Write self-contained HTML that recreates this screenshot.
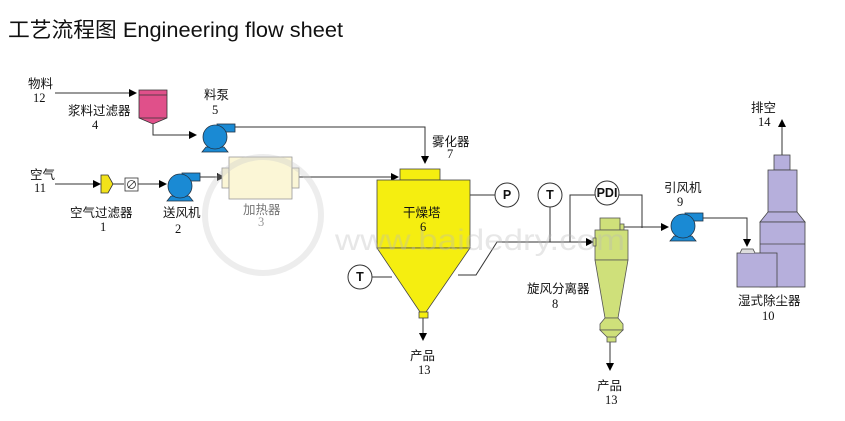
<!DOCTYPE html>
<html><head><meta charset="utf-8"><style>
body{margin:0;background:#fff;width:845px;height:416px;overflow:hidden}
text{font-family:"Liberation Sans","Noto Sans CJK SC",sans-serif;font-size:12.5px;fill:#111}
.n{font-family:"Liberation Serif",serif;font-size:12.5px}
</style></head><body>
<svg width="845" height="416" viewBox="0 0 845 416" xmlns="http://www.w3.org/2000/svg">
<defs>
<marker id="a" markerWidth="8" markerHeight="8" refX="7" refY="4" orient="auto" markerUnits="userSpaceOnUse"><path d="M0,0L8,4L0,8z" fill="#000"/></marker>
<g id="fan"><path d="M-9,10L9,10L13,15L-13,15z" fill="#1a8ad4" stroke="#234" stroke-width="0.8"/><rect x="2" y="-13" width="18" height="8" fill="#1a8ad4" stroke="#234" stroke-width="0.8"/><circle r="12" fill="#1a8ad4" stroke="#234" stroke-width="0.8"/></g>
</defs>
<text x="8" y="37" style="font-size:21px" textLength="335" lengthAdjust="spacingAndGlyphs">工艺流程图  Engineering flow sheet</text>
<g stroke="#333" stroke-width="1" fill="none">
<path d="M55,93H136" marker-end="url(#a)"/>
<path d="M153,123V135H196" marker-end="url(#a)"/>
<path d="M235,127H425V163" marker-end="url(#a)"/>
<path d="M55,184H100" marker-end="url(#a)"/>
<path d="M112,184H124M138,184H166" marker-end="url(#a)"/>
<path d="M200,177H224" marker-end="url(#a)"/>
<path d="M298,177H398" marker-end="url(#a)"/>
<path d="M470,195H495"/>
<path d="M372,277H392"/>
<path d="M458,275H476L497,242H593" marker-end="url(#a)"/>
<path d="M550,207V242"/>
<path d="M570,242V195H595M619,195H642V228"/>
<path d="M620,227H668" marker-end="url(#a)"/>
<path d="M703,218H747V246" marker-end="url(#a)"/>
<path d="M782,155V120" marker-end="url(#a)"/>
<path d="M423,318V340" marker-end="url(#a)"/>
<path d="M610,342V370" marker-end="url(#a)"/>
</g>
<path d="M139,90H167V118L153,124L139,118z" fill="#e0508a" stroke="#333" stroke-width="0.8"/>
<path d="M139,95H167M139,118H167" stroke="#333" stroke-width="0.8"/>
<use href="#fan" x="215" y="137"/>
<use href="#fan" x="180" y="186"/>
<use href="#fan" x="683" y="226"/>
<path d="M101,175H108L113,184L108,193H101z" fill="#f2e21a" stroke="#333" stroke-width="0.8"/>
<rect x="125" y="178" width="13" height="13" fill="#fff" stroke="#333" stroke-width="0.8"/>
<circle cx="131.5" cy="184.5" r="4" fill="none" stroke="#333" stroke-width="0.8"/>
<path d="M128,188L135,181" stroke="#333" stroke-width="0.8"/>
<rect x="222" y="168" width="7" height="20" fill="#fbf6d6" stroke="#999" stroke-width="0.8"/>
<rect x="229" y="157" width="63" height="42" fill="#fbf6d6" stroke="#999" stroke-width="0.8"/>
<rect x="292" y="168" width="7" height="20" fill="#fbf6d6" stroke="#999" stroke-width="0.8"/>
<rect x="400" y="169" width="40" height="11" fill="#f5ee10" stroke="#444" stroke-width="0.8"/>
<rect x="377" y="180" width="93" height="68" fill="#f5ee10" stroke="#444" stroke-width="0.8"/>
<path d="M377,248H470L426,312H420z" fill="#f5ee10" stroke="#444" stroke-width="0.8"/>
<rect x="419" y="312" width="9" height="6" fill="#f5ee10" stroke="#444" stroke-width="0.8"/>
<g fill="#fff" stroke="#333" stroke-width="1"><circle cx="507" cy="195" r="12"/><circle cx="550" cy="195" r="12"/><circle cx="607" cy="193" r="12"/><circle cx="360" cy="277" r="12"/></g>
<g style="font-weight:bold;font-size:11px" text-anchor="middle"><text x="507" y="199">P</text><text x="550" y="199">T</text><text x="607" y="197">PDI</text><text x="360" y="281">T</text></g>
<g fill="#cfe07a" stroke="#555" stroke-width="0.8">
<rect x="600" y="218" width="20" height="12"/>
<rect x="620" y="224" width="4" height="6"/>
<rect x="595" y="230" width="33" height="30"/>
<rect x="593" y="238" width="3" height="8"/>
<path d="M595,260H628L618,318H605z"/>
<path d="M605,318H618L623,324V330H600V324z"/>
<path d="M600,330H623L615,338H608z"/>
<rect x="607" y="337" width="9" height="5"/>
</g>
<g fill="#b6afdc" stroke="#444" stroke-width="0.8">
<rect x="774" y="155" width="16" height="15"/>
<rect x="768" y="170" width="29" height="42"/>
<path d="M768,212H797L805,222H760z"/>
<rect x="760" y="222" width="45" height="65"/>
<path d="M760,244H805"/>
<rect x="737" y="253" width="40" height="34"/>
<path d="M740,253L742,249H753L755,253" fill="#ddd"/>
</g>
<!-- faint watermark -->
<g opacity="0.35">
<circle cx="263" cy="215" r="58" fill="none" stroke="#ccc" stroke-width="6"/>
<text x="335" y="250" style="font-size:30px;fill:#bbb" textLength="290" lengthAdjust="spacingAndGlyphs">www.baidedry.com</text>
</g>
<text x="28" y="88">物料</text><text class="n" x="33" y="102">12</text>
<text x="68" y="115">浆料过滤器</text><text class="n" x="92" y="129">4</text>
<text x="204" y="99">料泵</text><text class="n" x="212" y="114">5</text>
<text x="30" y="179">空气</text><text class="n" x="34" y="192">11</text>
<text x="70" y="217">空气过滤器</text><text class="n" x="100" y="231">1</text>
<text x="163" y="217">送风机</text><text class="n" x="175" y="233">2</text>
<text x="243" y="214" style="fill:#777">加热器</text><text class="n" x="258" y="226" style="fill:#999">3</text>
<text x="432" y="146">雾化器</text><text class="n" x="447" y="158">7</text>
<text x="403" y="217">干燥塔</text><text class="n" x="420" y="231">6</text>
<text x="410" y="360">产品</text><text class="n" x="418" y="374">13</text>
<text x="527" y="293">旋风分离器</text><text class="n" x="552" y="308">8</text>
<text x="597" y="390">产品</text><text class="n" x="605" y="404">13</text>
<text x="664" y="192">引风机</text><text class="n" x="677" y="206">9</text>
<text x="751" y="112">排空</text><text class="n" x="758" y="126">14</text>
<text x="738" y="305">湿式除尘器</text><text class="n" x="762" y="320">10</text>
</svg>
</body></html>
